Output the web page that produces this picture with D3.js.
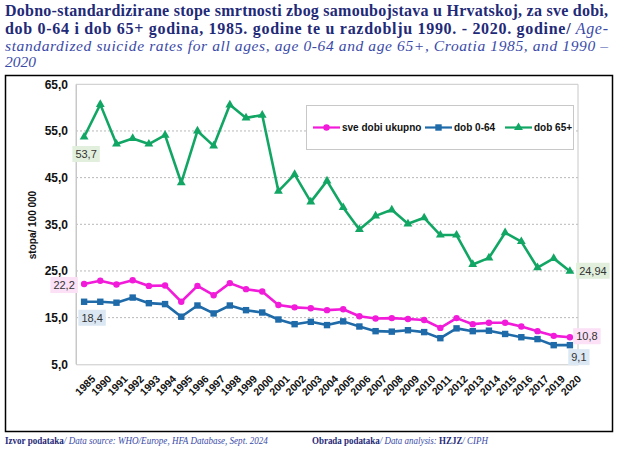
<!DOCTYPE html>
<html>
<head>
<meta charset="utf-8">
<script src="https://cdn.jsdelivr.net/npm/d3@7"></script>
<style>
  body { margin: 0; background: #fff; }
  svg { display: block; }
</style>
</head>
<body>
<svg id="chart" width="618" height="450"></svg>
<script>
var years = ["1985","1990","1991","1992","1993","1994","1995","1996","1997","1998","1999","2000",
  "2001","2002","2003","2004","2005","2006","2007","2008","2009","2010","2011","2012","2013",
  "2014","2015","2016","2017","2019","2020"];
var allAges = [22.2,22.9,22.1,23.0,21.8,21.9,18.4,21.8,19.8,22.4,21.1,20.6,
  17.7,17.2,17.0,16.6,16.8,15.3,14.8,14.9,14.7,14.5,12.8,14.9,13.6,
  13.9,13.9,13.1,12.1,11.1,10.8];
var age064 = [18.4,18.4,18.2,19.3,18.1,17.9,15.2,17.6,15.9,17.6,16.6,16.1,
  14.6,13.6,14.1,13.4,14.2,13.1,12.1,12.0,12.3,11.9,10.6,12.7,12.1,
  12.2,11.5,10.8,10.4,9.1,9.1];
var age65 = [53.7,60.7,52.2,53.4,52.2,54.1,43.9,55.0,51.8,60.6,57.8,58.4,
  42.1,45.7,39.8,44.3,38.6,33.9,36.8,38.1,35.1,36.4,32.7,32.7,26.4,
  27.8,33.2,31.3,25.7,27.7,24.94];
var yTicks = [5,15,25,35,45,55,65];
var seriesNames = ["sve dobi ukupno","dob 0-64","dob 65+"];

var svg = d3.select("#chart");
var navy = "#1f2a78";
var serif = "'Liberation Serif', 'Times New Roman', serif";
var sans = "Arial, 'Liberation Sans', sans-serif";
var fmt = function(v) { return String(v).replace(".", ","); };

// title
var title = svg.append("g").attr("font-family", serif).attr("fill", navy);
title.append("text").attr("x", 5).attr("y", 16).attr("font-size", 16).attr("font-weight", "bold")
  .attr("textLength", 603).attr("lengthAdjust", "spacing")
  .text("Dobno-standardizirane stope smrtnosti zbog samoubojstava u Hrvatskoj, za sve dobi,");
var t2 = title.append("text").attr("x", 5).attr("y", 34).attr("font-size", 16)
  .attr("textLength", 603).attr("lengthAdjust", "spacing");
t2.append("tspan").attr("font-weight", "bold").text("dob 0-64 i dob 65+ godina, 1985. godine te u razdoblju 1990. - 2020. godine/");
t2.append("tspan").attr("font-style", "italic").attr("fill", "#3a4aa8").text(" Age-");
title.append("text").attr("x", 5).attr("y", 51).attr("font-size", 15.5).attr("font-style", "italic").attr("fill", "#3a4aa8")
  .attr("textLength", 603).attr("lengthAdjust", "spacing")
  .text("standardized suicide rates for all ages, age  0-64 and age 65+, Croatia 1985, and 1990 \u2013");
title.append("text").attr("x", 5).attr("y", 67).attr("font-size", 15.5).attr("font-style", "italic").attr("fill", "#3a4aa8")
  .text("2020");

// outer frame
svg.append("rect").attr("x", 5.5).attr("y", 75.5).attr("width", 607).attr("height", 356)
  .attr("fill", "none").attr("stroke", "#000").attr("stroke-width", 1.5);

// scales
var x = d3.scalePoint().domain(years).range([76, 578]).padding(0.5);
var y = d3.scaleLinear().domain([5, 65]).range([364.3, 84.3]);

// grid
svg.append("g").selectAll("line").data(yTicks.filter(function(d) { return d > 5 && d < 65; }))
  .join("line").attr("x1", 76).attr("x2", 578)
  .attr("y1", function(d) { return y(d); }).attr("y2", function(d) { return y(d); })
  .attr("stroke", "#b8b8b8").attr("stroke-dasharray", "2,2");

// plot border
svg.append("path").attr("d", "M76,364.3 V84.3 H578 V364.3").attr("fill", "none").attr("stroke", "#c8c8c8");

// axes
var yAxis = svg.append("g").attr("transform", "translate(76,0)")
  .call(d3.axisLeft(y).tickValues(yTicks).tickSize(0).tickPadding(8).tickFormat(function(d) { return d3.format(".1f")(d).replace(".", ","); }));
yAxis.select(".domain").attr("stroke", "#c8c8c8");
yAxis.selectAll("text").attr("font-family", sans).attr("font-size", 12)
  .attr("font-weight", "bold").attr("fill", "#111");

var xAxis = svg.append("g").attr("transform", "translate(0,364.3)")
  .call(d3.axisBottom(x).tickSize(0).tickPadding(4));
xAxis.select(".domain").attr("stroke", "#c8c8c8");
xAxis.selectAll("text").attr("font-family", sans).attr("font-size", 10.5)
  .attr("font-weight", "bold").attr("fill", "#111")
  .attr("text-anchor", "end").attr("dy", "0.35em")
  .attr("transform", "translate(6,10) rotate(-45)");

svg.append("text").attr("transform", "translate(36,225) rotate(-90)")
  .attr("text-anchor", "middle").attr("font-family", sans)
  .attr("font-size", 10).attr("font-weight", "bold").attr("fill", "#111").text("stopa/ 100 000");

// series
var series = [
  { name: seriesNames[0], values: allAges, color: "#f21bd9", marker: "circle", label: "#fbe0f6" },
  { name: seriesNames[1], values: age064, color: "#1f6aa8", marker: "square", label: "#dbe8f4" },
  { name: seriesNames[2], values: age65, color: "#12a664", marker: "triangle", label: "#e1efdc" }
];
var line = d3.line().x(function(d, i) { return x(years[i]); }).y(function(d) { return y(d); });

function drawMarker(g, type, cx, cy, color) {
  if (type === "circle") {
    g.append("circle").attr("cx", cx).attr("cy", cy).attr("r", 3.2).attr("fill", color);
  } else if (type === "square") {
    g.append("rect").attr("x", cx - 3.2).attr("y", cy - 3.2).attr("width", 6.4).attr("height", 6.4).attr("fill", color);
  } else {
    g.append("path").attr("d", d3.symbol(d3.symbolTriangle, 34)()).attr("transform", "translate(" + cx + "," + cy + ")").attr("fill", color);
  }
}

series.forEach(function(s) {
  var g = svg.append("g");
  g.append("path").datum(s.values).attr("d", line).attr("fill", "none")
    .attr("stroke", s.color).attr("stroke-width", 2.6).attr("stroke-linejoin", "round");
  s.values.forEach(function(v, i) { drawMarker(g, s.marker, x(years[i]), y(v), s.color); });
});

// data labels
function dataLabel(txt, cx, cy, bg) {
  var g = svg.append("g");
  var t = g.append("text").attr("x", cx).attr("y", cy).attr("text-anchor", "middle").attr("dy", "0.35em")
    .attr("font-family", sans).attr("font-size", 11).attr("fill", "#333").text(txt);
  var w = t.node().getComputedTextLength() + 6;
  g.insert("rect", "text").attr("x", cx - w / 2).attr("y", cy - 8).attr("width", w).attr("height", 16).attr("fill", bg);
}
var last = years.length - 1;
dataLabel(fmt(age65[0]), x(years[0]) + 2, y(age65[0]) + 17, series[2].label);
dataLabel(fmt(allAges[0]), x(years[0]) - 20, y(allAges[0]) + 1, series[0].label);
dataLabel(fmt(age064[0]), x(years[0]) + 8, y(age064[0]) + 16, series[1].label);
dataLabel(fmt(age65[last]), x(years[last]) + 23, y(age65[last]) - 0.5, series[2].label);
dataLabel(fmt(allAges[last]), x(years[last]) + 17, y(allAges[last]) - 1, series[0].label);
dataLabel(fmt(age064[last]), x(years[last]) + 9, y(age064[last]) + 12, series[1].label);

// legend
var lg = svg.append("g");
lg.append("rect").attr("x", 306.5).attr("y", 105.5).attr("width", 267).attr("height", 44)
  .attr("fill", "#fff").attr("stroke", "#c8c8c8");
var legendX = [313, 425, 505];
series.forEach(function(s, i) {
  var gx = legendX[i], gy = 127.5;
  lg.append("line").attr("x1", gx).attr("x2", gx + 27).attr("y1", gy).attr("y2", gy)
    .attr("stroke", s.color).attr("stroke-width", 2.2);
  drawMarker(lg, s.marker, gx + 13.5, gy, s.color);
  lg.append("text").attr("x", gx + 29).attr("y", gy).attr("dy", "0.35em")
    .attr("font-family", sans).attr("font-size", 10).attr("font-weight", "bold")
    .attr("fill", "#111").text(s.name);
});

// footer - squeezed horizontally to the width of the original
function footer(x0, width, parts) {
  var g = svg.append("g");
  var t = g.append("text").attr("x", 0).attr("y", 0).attr("font-family", serif)
    .attr("font-size", 11).attr("fill", navy);
  parts.forEach(function(p) {
    var sp = t.append("tspan").text(p[0]);
    if (p[1] === "b") sp.attr("font-weight", "bold");
    else sp.attr("font-style", "italic").attr("fill", "#3a4aa8");
  });
  var w = t.node().getComputedTextLength();
  g.attr("transform", "translate(" + x0 + ",444) scale(" + (width / w) + ",1)");
}
footer(5, 263, [["Izvor podataka", "b"], ["/ Data source: WHO/Europe, HFA Database, Sept. 2024", "i"]]);
footer(312, 176, [["Obrada podataka", "b"], ["/ Data analysis: ", "i"], ["HZJZ", "b"], ["/ CIPH", "i"]]);
</script>
</body>
</html>
